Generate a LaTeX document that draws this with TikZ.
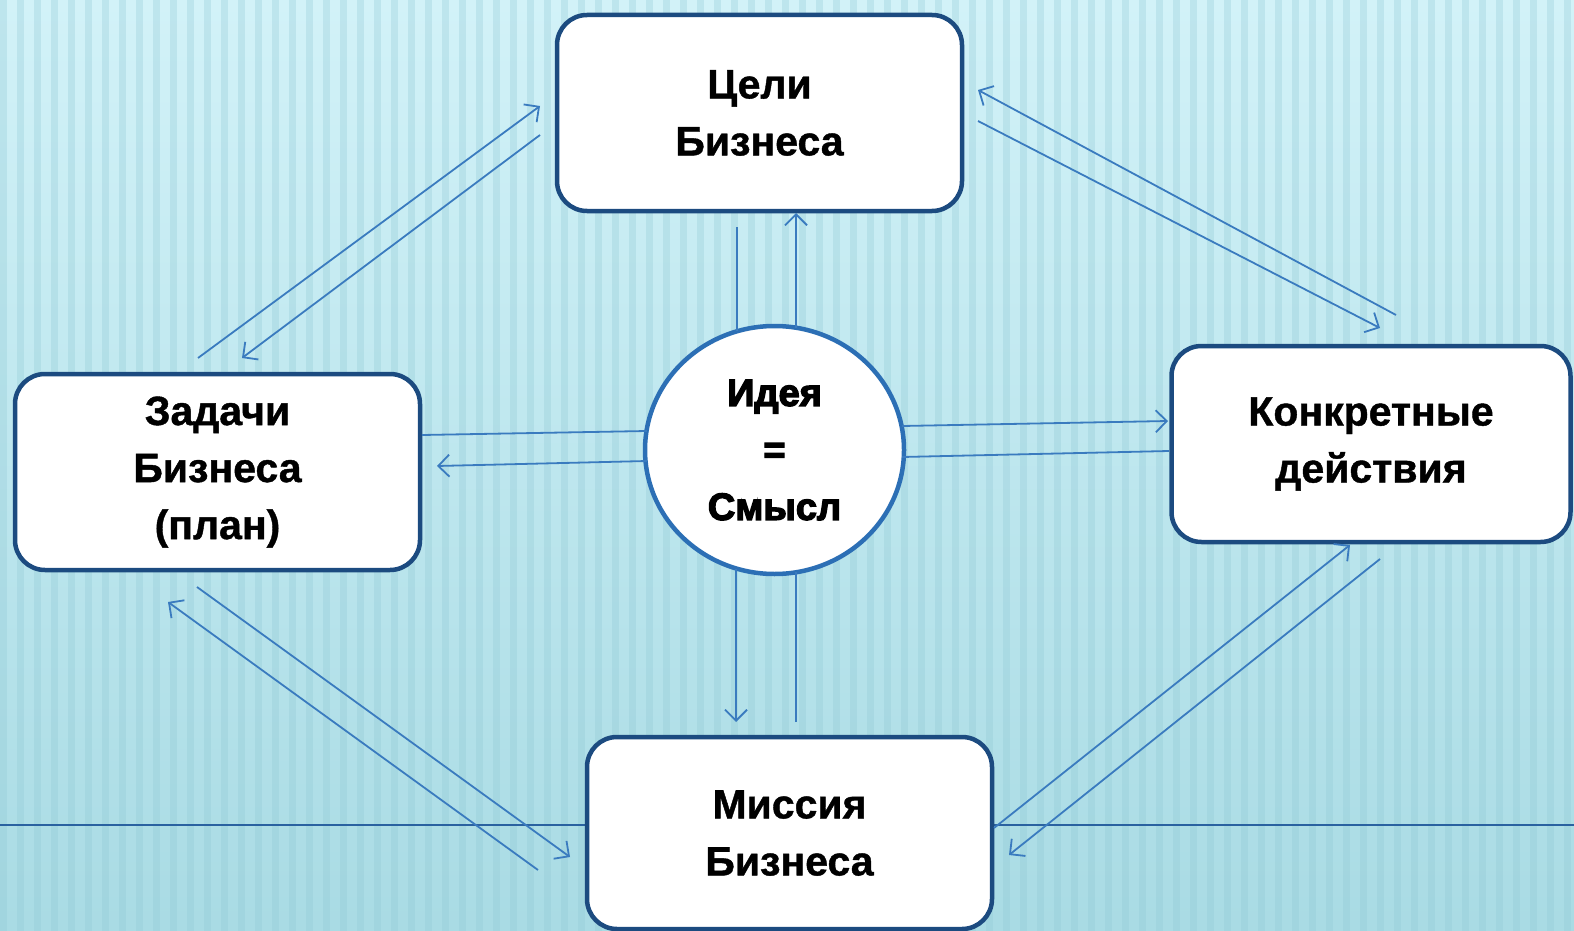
\documentclass[tikz,border=0pt]{standalone}
\usepackage{fontspec}
\setmainfont{Liberation Sans}
\newfontfamily\heavyfont[FakeBold=3.5]{Liberation Sans}
\newfontfamily\boxfont[FakeBold=1]{Liberation Sans}
\usetikzlibrary{arrows.meta,shapes.geometric}
\definecolor{bgA}{HTML}{D2F2F8}
\definecolor{bgB}{HTML}{A9DBE4}
\definecolor{stripe}{HTML}{8FC8D4}
\definecolor{boxline}{HTML}{1C4B80}
\definecolor{circline}{HTML}{2C6FB5}
\definecolor{arr}{HTML}{3A7BBF}
\definecolor{hline}{HTML}{2A62A0}
\begin{document}
\begin{tikzpicture}[x=1pt,y=-1pt,
  box/.style={draw=boxline, line width=4.5pt, fill=white, rounded corners=30pt,
    minimum width=405pt, minimum height=196pt, align=center, inner sep=0pt,
    font=\boxfont\bfseries\fontsize{41}{57}\selectfont},
  idea/.style={ellipse, draw=circline, line width=4.5pt, fill=white,
    minimum width=259pt, minimum height=248pt, align=center, inner sep=0pt,
    font=\heavyfont\bfseries\fontsize{38}{57}\selectfont},
  conn/.style={draw=arr, line width=1.8pt},
  tip/.style={-{Straight Barb[length=11pt,width=22pt,line width=1.8pt]}}]
\useasboundingbox (0,0) rectangle (1574,931);
% background
\shade[top color=bgA, bottom color=bgB] (0,0) rectangle (1574,931);
\foreach \x in {0,17,...,1574} \fill[stripe, opacity=0.3] (\x,0) rectangle ++(7,931);
% horizontal line
\coordinate (hl) at (0,825);
\coordinate (hr) at (1574,825);
\draw[draw=hline, line width=2pt] (hl) -- (hr);
% nodes
\node[box] (goals) at (759.5,113) {Цели\\Бизнеса};
\node[box] (tasks) at (217.5,472) {Задачи\\Бизнеса\\(план)};
\node[box, minimum width=399pt] (acts) at (1371,444) {Конкретные\\действия};
\node[box, minimum height=192pt] (miss) at (789.5,833) {Миссия\\Бизнеса};
\node[idea] (idea) at (774.5,450) {Идея\\=\\Смысл};
% connector end points
\coordinate (tl1) at (198,358);  \coordinate (tl2) at (540,106);
\coordinate (tl3) at (540,135);  \coordinate (tl4) at (242,358);
\coordinate (tr1) at (1396,315); \coordinate (tr2) at (978,90);
\coordinate (tr3) at (978,121);  \coordinate (tr4) at (1380,328);
\coordinate (ct1) at (737,331);  \coordinate (ct2) at (737,227);
\coordinate (ct3) at (796,328);  \coordinate (ct4) at (796,213);
\coordinate (cb1) at (736,569);  \coordinate (cb2) at (736,722);
\coordinate (cb3) at (796,722);  \coordinate (cb4) at (796,572);
\coordinate (lh1) at (422,435);  \coordinate (lh2) at (647,431);
\coordinate (lh3) at (647,461);  \coordinate (lh4) at (437,466);
\coordinate (rh1) at (902,426);  \coordinate (rh2) at (1168,421);
\coordinate (rh3) at (902,457);  \coordinate (rh4) at (1169,451);
\coordinate (bl1) at (538,870);  \coordinate (bl2) at (168,602);
\coordinate (bl3) at (197,587);  \coordinate (bl4) at (570,857);
\coordinate (br1) at (994,828);  \coordinate (br2) at (1350,545);
\coordinate (br3) at (1380,559); \coordinate (br4) at (1009,855);
% connectors
\draw[conn,tip] (tl1) -- (tl2);
\draw[conn,tip] (tl3) -- (tl4);
\draw[conn,tip] (tr1) -- (tr2);
\draw[conn,tip] (tr3) -- (tr4);
\draw[conn] (ct1) -- (ct2);
\draw[conn,tip] (ct3) -- (ct4);
\draw[conn,tip] (cb1) -- (cb2);
\draw[conn] (cb3) -- (cb4);
\draw[conn] (lh1) -- (lh2);
\draw[conn,tip] (lh3) -- (lh4);
\draw[conn,tip] (rh1) -- (rh2);
\draw[conn] (rh3) -- (rh4);
\draw[conn,tip] (bl1) -- (bl2);
\draw[conn,tip] (bl3) -- (bl4);
\draw[conn,tip] (br1) -- (br2);
\draw[conn,tip] (br3) -- (br4);
\end{tikzpicture}
\end{document}
